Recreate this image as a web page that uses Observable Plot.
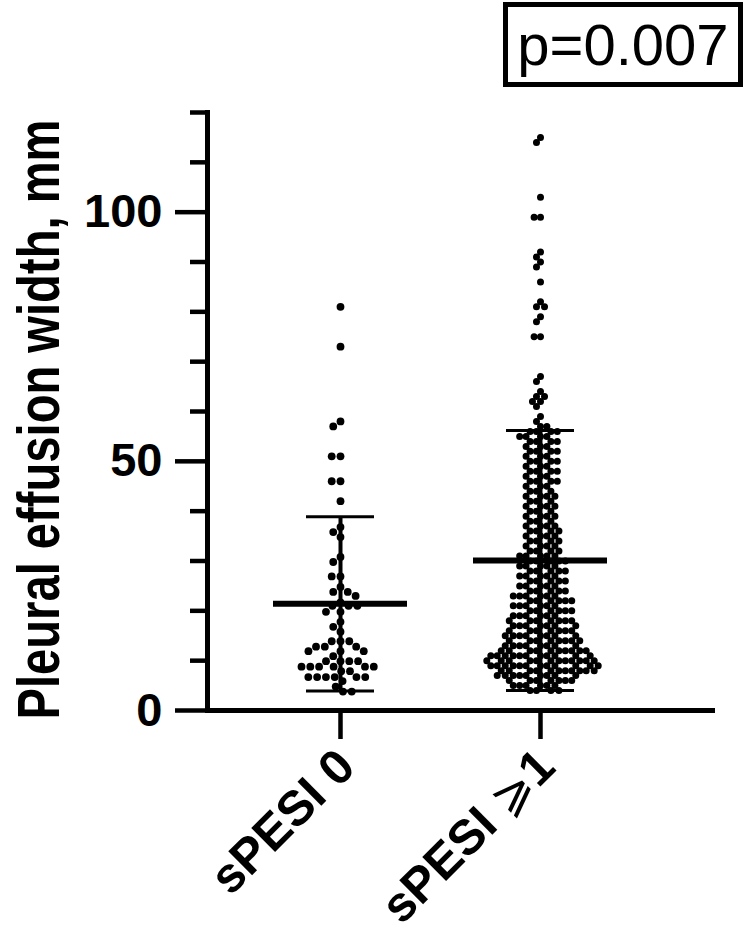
<!DOCTYPE html>
<html><head><meta charset="utf-8">
<script src="https://cdn.jsdelivr.net/npm/d3@7"></script>
<script src="https://cdn.jsdelivr.net/npm/@observablehq/plot@0.6"></script>
<style>
body{margin:0;background:#fff;font-family:"Liberation Sans",Arial,sans-serif;}
#wrap{position:relative;width:756px;height:926px;overflow:hidden;}
#pbox{position:absolute;left:503px;top:2px;width:230px;height:75px;border:5px solid #000;font-size:58px;line-height:75px;text-align:center;color:#000;}
</style></head><body><div id="wrap"><div id="pbox"></div></div>
<script>
const groups = ["sPESI 0", "sPESI ⩾1"];
const spesi0 = [81, 73, 58, 57, 51, 51, 46, 46, 42, 36.8, 35.8, 34.8, 30.8, 29.8, 26.9, 26.9, 24.8, 23.8, 23.8, 23,
  21.7, 21, 21, 21, 19.8, 19.8, 17.8, 16.8, 15.8, 13.9, 13.9, 13.9, 12.8, 12.8, 12.8, 11.9, 11.9, 11.9, 10.9,
  9.9, 9.9, 9.9, 9.9, 8.8, 8.8, 8.8, 8.8, 8.8, 8.8, 7.9, 7.9, 6.7, 6.7, 6.7, 6.7, 6.7, 6.7, 5.9, 4.8, 3.8, 3.8];
const spesi1 = [115, 114, 103, 99, 99, 92, 91, 90, 89, 86, 82, 81, 81, 79, 78, 75, 75,
  67, 66, 64, 63, 63, 62, 62, 61, 59, 58, 57, 57,
  56, 56, 56, 56, 55, 55, 55, 55, 54, 54, 54, 54, 53, 53, 53, 52, 52, 52, 52, 51, 51, 51,
  50, 50, 50, 50, 49, 49, 49, 48, 48, 48, 48, 47, 47, 47, 46, 46, 46, 46, 45, 45, 45,
  44, 44, 44, 43, 43, 43, 43, 42, 42, 42, 41, 41, 41, 41, 40, 40, 40,
  39, 39, 39, 39, 38, 38, 38, 37, 37, 37, 37, 36, 36, 36, 36, 35, 35, 35, 35,
  34, 34, 34, 34, 33, 33, 33, 33, 32, 32, 32, 32,
  31, 31, 31, 31, 31, 30, 30, 30, 30, 30, 29, 29, 29, 29, 29, 28, 28, 28, 28, 28,
  27, 27, 27, 27, 27, 26, 26, 26, 26, 26, 25, 25, 25, 25, 25, 24, 24, 24, 24, 24,
  23, 23, 23, 23, 23, 23, 22, 22, 22, 22, 22, 22, 21, 21, 21, 21, 21, 21,
  20, 20, 20, 20, 20, 20, 19, 19, 19, 19, 19, 19,
  18, 18, 18, 18, 18, 18, 18, 17, 17, 17, 17, 17, 17, 17, 16, 16, 16, 16, 16, 16, 16,
  15, 15, 15, 15, 15, 15, 15, 15, 14, 14, 14, 14, 14, 14, 14, 14,
  13, 13, 13, 13, 13, 13, 13, 13, 12, 12, 12, 12, 12, 12, 12, 12, 12, 12,
  11, 11, 11, 11, 11, 11, 11, 11, 11, 11, 11,
  10, 10, 10, 10, 10, 10, 10, 10, 10, 10, 10, 10,
  9, 9, 9, 9, 9, 9, 9, 9, 9, 9, 9, 9,
  8, 8, 8, 8, 8, 8, 8, 8, 8, 8, 8,
  7, 7, 7, 7, 7, 7, 7, 7, 7, 6, 6, 6, 6, 6, 6, 6, 5, 5, 5, 5, 5, 5, 4, 4, 4, 4];
const means = [21.4, 30.1];
const sds = [17.5, 26.1];
const yMajorTicks = [0, 50, 100];
const yMinorTicks = [10, 20, 30, 40, 60, 70, 80, 90, 110, 120];
const yDomain = [0, 120];
const pValue = "p=0.007";
const yLabel = "Pleural effusion width, mm";

document.getElementById("pbox").textContent = pValue;

const W = 756, H = 926, mL = 207, mR = 44, mT = 112, mB = 216;
const xRange = [240, 640];
const band = d3.scaleBand(groups, xRange).padding(0);
const frameMid = (mL + W - mR) / 2;
// Plot already offsets dots by half the bandwidth on a band x scale
const centerDx = groups.map(g => band(g) - frameMid);

const stats = groups.map((g, i) => ({group: g, mean: means[i], lo: means[i] - sds[i], hi: means[i] + sds[i]}));
const d0 = spesi0.map(v => ({group: groups[0], v}));
const d1 = spesi1.map(v => ({group: groups[1], v}));

const plot = Plot.plot({
  width: W, height: H, marginLeft: mL, marginRight: mR, marginTop: mT, marginBottom: mB,
  style: {fontFamily: "'Liberation Sans', Arial, sans-serif", color: "#000", background: "transparent", overflow: "visible"},
  x: {type: "band", domain: groups, range: xRange, padding: 0, label: null},
  y: {domain: yDomain, label: null},
  marks: [
    Plot.dot(d0, Plot.dodgeX("middle", {y: "v", r: 3.9, padding: 9, fill: "#000", stroke: "none", dx: centerDx[0]})),
    Plot.dot(d1, Plot.dodgeX("middle", {y: "v", r: 2.7, padding: 0, fill: "#000", stroke: "#000", strokeWidth: 1.6, dx: centerDx[1]})),
    Plot.ruleX(stats, {x: "group", y1: "lo", y2: "hi", strokeWidth: 4}),
    Plot.tickY(stats, {x: "group", y: "mean", strokeWidth: 6, insetLeft: 33, insetRight: 33}),
    Plot.tickY(stats, {x: "group", y: "lo", strokeWidth: 3, insetLeft: 66, insetRight: 66}),
    Plot.tickY(stats, {x: "group", y: "hi", strokeWidth: 3, insetLeft: 66, insetRight: 66}),
    Plot.axisY({ticks: yMinorTicks, tickSize: 17, strokeWidth: 4.5, text: null, label: null}),
    Plot.axisY({ticks: yMajorTicks, tickSize: 32, strokeWidth: 4.5, tickPadding: 13, fontSize: 47, fontWeight: "bold", label: null}),
    Plot.axisX({tickSize: 29, strokeWidth: 4.5, text: null, label: null}),
    Plot.axisX({tickSize: 0, tickRotate: -45, tickPadding: 48, fontSize: 49, fontWeight: "bold", dx: 6, dy: 0, label: null, className: "xlab"}),
    Plot.frame({anchor: "left", strokeWidth: 5}),
    Plot.frame({anchor: "bottom", strokeWidth: 5}),
    Plot.text([yLabel], {text: d => d, frameAnchor: "left", textAnchor: "middle", rotate: -90, dx: -168, dy: 8, fontSize: 60, fontWeight: "bold", className: "ylab"})
  ]
});
document.getElementById("wrap").prepend(plot);
const yl = plot.querySelector(".ylab text");
if (yl) { yl.setAttribute("textLength", 600); yl.setAttribute("lengthAdjust", "spacingAndGlyphs"); }
// the ⩾ sign is drawn thin, as in the reference
plot.querySelectorAll("text").forEach(t => {
  const s = t.textContent;
  const k = s.indexOf("⩾");
  if (k >= 0 && t.children.length === 0) {
    t.textContent = "";
    const parts = [[s.slice(0, k), "bold"], ["⩾", "normal"], [s.slice(k + 1), "bold"]];
    for (const [txt, fw] of parts) {
      const ts = document.createElementNS("http://www.w3.org/2000/svg", "tspan");
      ts.textContent = txt;
      ts.setAttribute("font-weight", fw);
      t.appendChild(ts);
    }
  }
});
</script></body></html>
